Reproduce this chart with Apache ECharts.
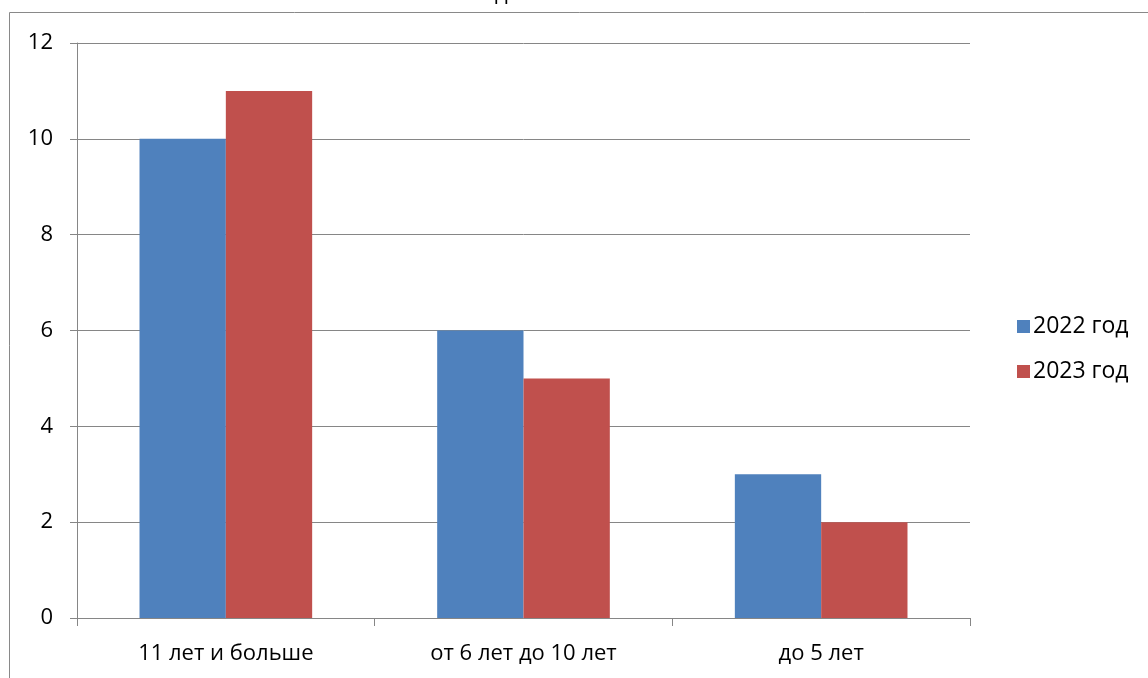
<!DOCTYPE html>
<html><head><meta charset="utf-8">
<script src="https://cdn.jsdelivr.net/npm/echarts@6/dist/echarts.min.js"></script>
<style>html,body{margin:0;padding:0;background:#fff}#c{width:1148px;height:678px}</style>
</head><body><div id="c"></div>
<script>
const titleText = 'Стаж педагогического состава';
const categories = ['11 лет и больше', 'от 6 лет до 10 лет', 'до 5 лет'];
const seriesNames = ['2022 год', '2023 год'];
const values2022 = [10, 6, 3];
const values2023 = [11, 5, 2];
const yTicks = [0, 2, 4, 6, 8, 10, 12];

const font = '"Open Sans", "Noto Sans", sans-serif';
const chart = echarts.init(document.getElementById('c'), null, {renderer: 'canvas'});
chart.setOption({
  animation: false,
  backgroundColor: '#fff',
  title: {text: titleText, left: 'center', top: -22, textStyle: {fontFamily: font, fontSize: 22, fontWeight: 'normal', color: '#000'}},
  graphic: [{type: 'rect', shape: {x: 9.5, y: 12.5, width: 1200, height: 700}, style: {fill: 'none', stroke: '#898989', lineWidth: 1}, silent: true, z: -1}],
  grid: {left: 77, right: 178, top: 43, bottom: 60, containLabel: false},
  legend: {
    orient: 'vertical', left: 1012, top: 310, itemWidth: 13, itemHeight: 13, itemGap: 22,
    icon: 'rect', textStyle: {fontFamily: font, fontSize: 23, color: '#000', padding: [0, 0, 0, -2]},
    data: seriesNames
  },
  xAxis: {
    type: 'category', data: categories,
    axisLine: {lineStyle: {color: '#868686', width: 1}},
    axisTick: {show: true, length: 8, lineStyle: {color: '#868686'}},
    axisLabel: {fontFamily: font, fontSize: 22, color: '#000', margin: 25}
  },
  yAxis: {
    type: 'value', min: 0, max: yTicks[yTicks.length - 1], interval: 2,
    axisLine: {show: true, lineStyle: {color: '#868686'}},
    axisTick: {show: true, length: 7, lineStyle: {color: '#868686'}},
    splitLine: {lineStyle: {color: '#868686', width: 1}},
    axisLabel: {fontFamily: font, fontSize: 22, color: '#000', margin: 24}
  },
  series: [
    {name: seriesNames[0], type: 'bar', data: values2022, barGap: '0%', barCategoryGap: '42%', itemStyle: {color: '#4F81BD'}},
    {name: seriesNames[1], type: 'bar', data: values2023, barGap: '0%', barCategoryGap: '42%', itemStyle: {color: '#C0504D'}}
  ]
});
</script></body></html>
